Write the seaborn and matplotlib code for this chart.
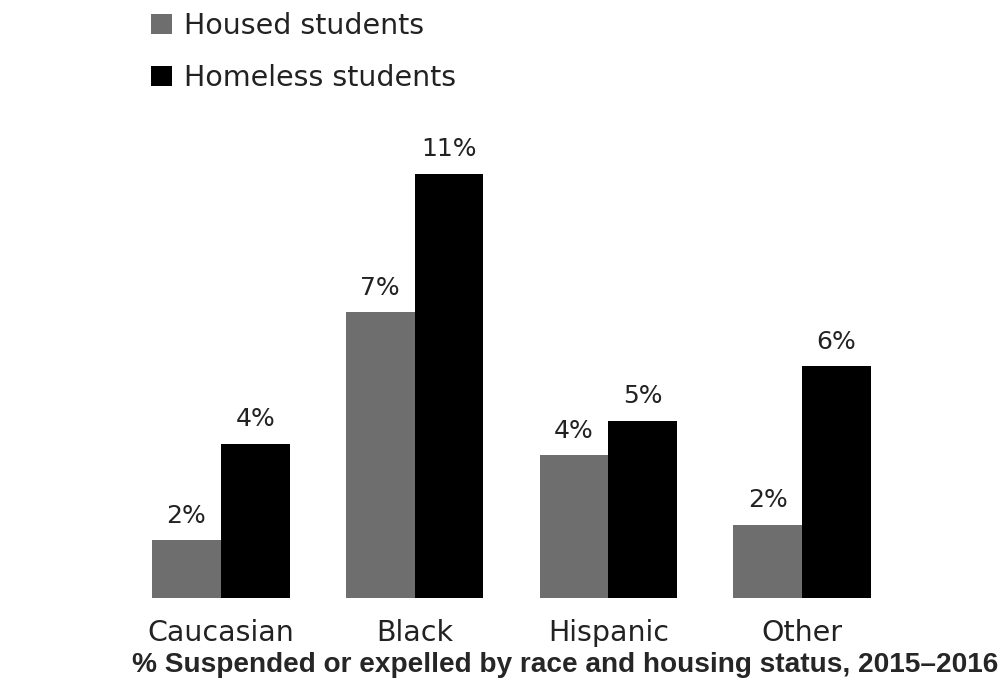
import matplotlib
matplotlib.use("Agg")
import matplotlib.pyplot as plt
import seaborn as sns
import pandas as pd

categories = ["Caucasian", "Black", "Hispanic", "Other"]
housed = [1.5, 7.4, 3.7, 1.9]
homeless = [4.0, 11.0, 4.6, 6.0]
housed_labels = ["2%", "7%", "4%", "2%"]
homeless_labels = ["4%", "11%", "5%", "6%"]
series = ["Housed students", "Homeless students"]
title = "% Suspended or expelled by race and housing status, 2015\u20132016"

df = pd.DataFrame({
    "race": categories * 2,
    "value": housed + homeless,
    "status": [series[0]] * 4 + [series[1]] * 4,
})

sns.set_theme(style="white")
plt.rcParams["font.family"] = ["DejaVu Sans"]

fig = plt.figure(figsize=(10.04, 6.87), dpi=100)
ax = fig.add_axes([124 / 1004, 1 - 598 / 687, 775 / 1004, 463 / 687])

sns.barplot(data=df, x="race", y="value", hue="status", order=categories,
            hue_order=series, palette=["#6e6e6e", "#000000"], width=0.71,
            saturation=1, ax=ax, legend=True, linewidth=0)

for cont, labs in zip(ax.containers, [housed_labels, homeless_labels]):
    ax.bar_label(cont, labels=labs, padding=9, fontsize=18, color="#222222")

ax.set_ylim(0, 12)
ax.set_xlim(-0.5, 3.5)
ax.set_xlabel("")
ax.set_ylabel("")
ax.set_yticks([])
ax.tick_params(axis="x", length=0, pad=15, labelsize=20.5, labelcolor="#222222")
for s in ax.spines.values():
    s.set_visible(False)

handles, labels = ax.get_legend_handles_labels()
ax.get_legend().remove()
fig.legend(handles, labels, loc="upper left", bbox_to_anchor=(125 / 1004, 1.02),
           frameon=False, fontsize=20.5, handlelength=0.74, handleheight=0.74,
           handletextpad=0.42, labelspacing=0.85, labelcolor="#222222")

fig.text(565 / 1004, 1 - 665 / 687, title, ha="center", va="center",
         fontsize=20.2, fontweight="bold", family=["Liberation Sans", "DejaVu Sans"])

fig.savefig("out.png", dpi=100, facecolor="white")
